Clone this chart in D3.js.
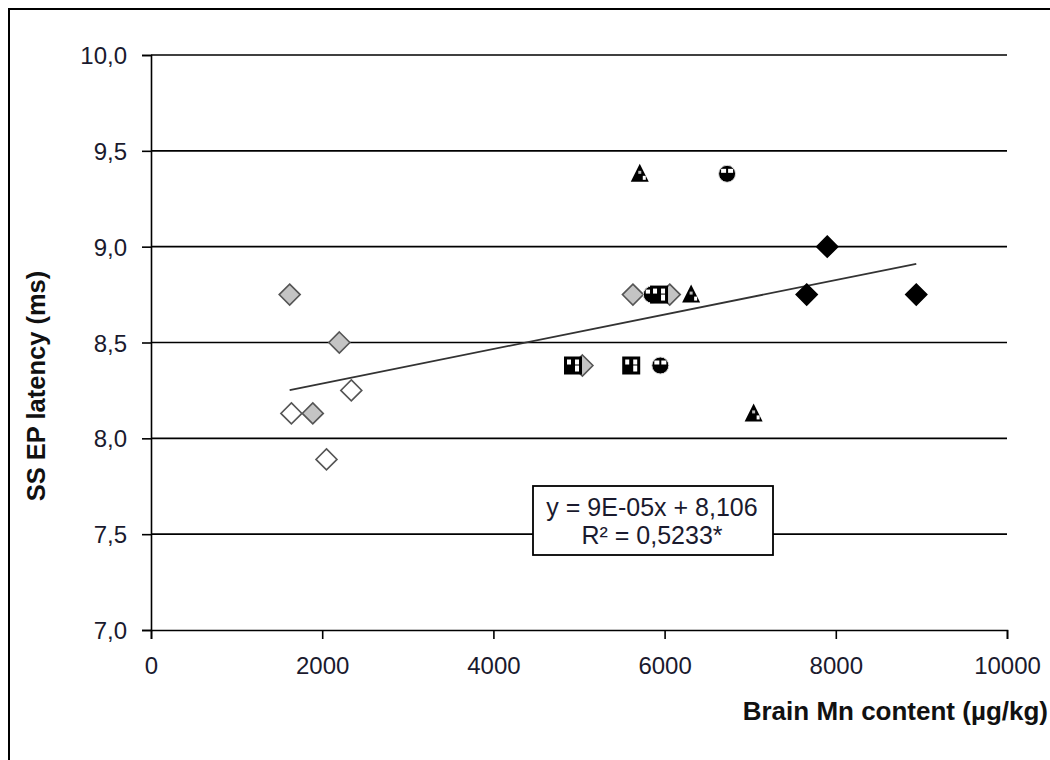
<!DOCTYPE html>
<html>
<head>
<meta charset="utf-8">
<script src="https://cdn.jsdelivr.net/npm/d3@7"></script>
<style>
  body { margin: 0; background: #fff; }
  svg { display: block; font-family: "Liberation Sans", Arial, sans-serif; }
</style>
</head>
<body>
<svg id="chart" width="1050" height="760"></svg>
<script>
// ---- data ----
const xTicks = [0, 2000, 4000, 6000, 8000, 10000];
const yTicks = [7.0, 7.5, 8.0, 8.5, 9.0, 9.5, 10.0];

const greyDiamondX = [1620, 2200, 1890, 5630, 5040, 6060];
const greyDiamondY = [8.75, 8.5, 8.13, 8.75, 8.38, 8.75];
const whiteDiamondX = [1640, 2340, 2050];
const whiteDiamondY = [8.13, 8.25, 7.89];
const blackDiamondX = [7660, 7900, 8940];
const blackDiamondY = [8.75, 9.0, 8.75];
const triangleX = [5710, 6310, 7040];
const triangleY = [9.38, 8.75, 8.13];
const circleX = [6730, 5950, 5850];
const circleY = [9.38, 8.38, 8.75];
const squareX = [4930, 5610, 5935];
const squareY = [8.38, 8.38, 8.75];

const trendSlope = 9e-5;
const trendIntercept = 8.106;
const trendRange = [1620, 8940];
const equationLines = ["y = 9E-05x + 8,106", "R\u00B2 = 0,5233*"];
const xTitle = "Brain Mn content (\u00B5g/kg)";
const yTitle = "SS EP latency (ms)";

// ---- layout ----
const svg = d3.select("#chart");
const x = d3.scaleLinear().domain([0, 10000]).range([151, 1007]);
const y = d3.scaleLinear().domain([7, 10]).range([630, 55]);
const fmtY = v => d3.format(".1f")(v).replace(".", ",");

// outer border
svg.append("rect").attr("x", 9).attr("y", 9).attr("width", 1200).attr("height", 900)
  .attr("fill", "none").attr("stroke", "#000").attr("stroke-width", 2);

// gridlines
svg.append("g").selectAll("line").data(yTicks.filter(v => v > 7)).join("line")
  .attr("x1", x(0)).attr("x2", x(10000))
  .attr("y1", d => y(d)).attr("y2", d => y(d))
  .attr("stroke", "#000").attr("stroke-width", 1.6);

// axes
const yAxis = svg.append("g").attr("transform", `translate(${x(0)},0)`)
  .call(d3.axisLeft(y).tickValues(yTicks).tickSize(9).tickFormat(fmtY).tickPadding(15));
const xAxis = svg.append("g").attr("transform", `translate(0,${y(7)})`)
  .call(d3.axisBottom(x).tickValues(xTicks).tickSize(9).tickFormat(d => d).tickPadding(18));
[yAxis, xAxis].forEach(g => {
  g.select(".domain").attr("stroke", "#000").attr("stroke-width", 1.6);
  g.selectAll(".tick line").attr("stroke", "#000").attr("stroke-width", 1.6);
  g.selectAll(".tick text").attr("fill", "#1a1a2e")
    .style("font-size", "24px").style("font-family", '"Liberation Sans", Arial, sans-serif');
});
yAxis.selectAll(".tick text").attr("dy", "0.36em");
xAxis.selectAll(".tick text").attr("dy", "0.71em");

// trendline
svg.append("line")
  .attr("x1", x(trendRange[0])).attr("y1", y(trendSlope * trendRange[0] + trendIntercept))
  .attr("x2", x(trendRange[1])).attr("y2", y(trendSlope * trendRange[1] + trendIntercept))
  .attr("stroke", "#333").attr("stroke-width", 1.8);

// markers
const zip = (xs, ys) => xs.map((v, i) => ({ x: v, y: ys[i] }));
const diamond = r => `M0,${-r}L${r},0L0,${r}L${-r},0Z`;

function drawDiamonds(data, fill, stroke) {
  svg.append("g").selectAll("path").data(data).join("path")
    .attr("transform", d => `translate(${x(d.x)},${y(d.y)})`)
    .attr("d", diamond(10.5)).attr("fill", fill).attr("stroke", stroke).attr("stroke-width", 1.6);
}
drawDiamonds(zip(greyDiamondX, greyDiamondY), "#c4c4c4", "#555");
drawDiamonds(zip(whiteDiamondX, whiteDiamondY), "#fff", "#555");
drawDiamonds(zip(blackDiamondX, blackDiamondY), "#000", "#000");

// triangles
const tri = svg.append("g").selectAll("g").data(zip(triangleX, triangleY)).join("g")
  .attr("transform", d => `translate(${x(d.x)},${y(d.y)})`);
tri.append("path").attr("d", "M0,-10L9,8L-9,8Z").attr("fill", "#000");
tri.append("rect").attr("x", -1.5).attr("y", -3).attr("width", 3).attr("height", 3).attr("fill", "#bbb");
tri.append("rect").attr("x", 3).attr("y", 2).attr("width", 3).attr("height", 4).attr("fill", "#fff");

// circles
const circ = svg.append("g").selectAll("g").data(zip(circleX, circleY)).join("g")
  .attr("transform", d => `translate(${x(d.x)},${y(d.y)})`);
circ.append("circle").attr("r", 8.5).attr("fill", "#000").attr("stroke", "#ddd").attr("stroke-width", 1);
circ.append("rect").attr("x", -6).attr("y", -5).attr("width", 5).attr("height", 4).attr("fill", "#fff");
circ.append("rect").attr("x", 1).attr("y", -5).attr("width", 5).attr("height", 4).attr("fill", "#fff");

// squares
const sq = svg.append("g").selectAll("g").data(zip(squareX, squareY)).join("g")
  .attr("transform", d => `translate(${x(d.x)},${y(d.y)})`);
sq.append("rect").attr("x", -9).attr("y", -9).attr("width", 18).attr("height", 18).attr("fill", "#000");
sq.append("rect").attr("x", -6).attr("y", -6).attr("width", 4).attr("height", 5).attr("fill", "#fff");
sq.append("rect").attr("x", 2).attr("y", -6).attr("width", 4).attr("height", 5).attr("fill", "#fff");
sq.append("rect").attr("x", 2).attr("y", 0).attr("width", 4).attr("height", 6).attr("fill", "#fff");

// equation box
const box = svg.append("g");
box.append("rect").attr("x", 533).attr("y", 486).attr("width", 240).attr("height", 69)
  .attr("fill", "#fff").attr("stroke", "#000").attr("stroke-width", 1.8);
box.selectAll("text").data(equationLines).join("text")
  .attr("x", 652).attr("y", (d, i) => 516 + i * 28)
  .attr("text-anchor", "middle").attr("fill", "#1a1a2e")
  .style("font-size", "25px").text(d => d);

// axis titles
svg.append("text").attr("x", 1048).attr("y", 720).attr("text-anchor", "end")
  .style("font-size", "26px").style("font-weight", "bold").attr("fill", "#111").text(xTitle);
svg.append("text").attr("transform", "translate(45,386) rotate(-90)").attr("text-anchor", "middle")
  .style("font-size", "25.5px").style("font-weight", "bold").attr("fill", "#111").text(yTitle);
</script>
</body>
</html>
